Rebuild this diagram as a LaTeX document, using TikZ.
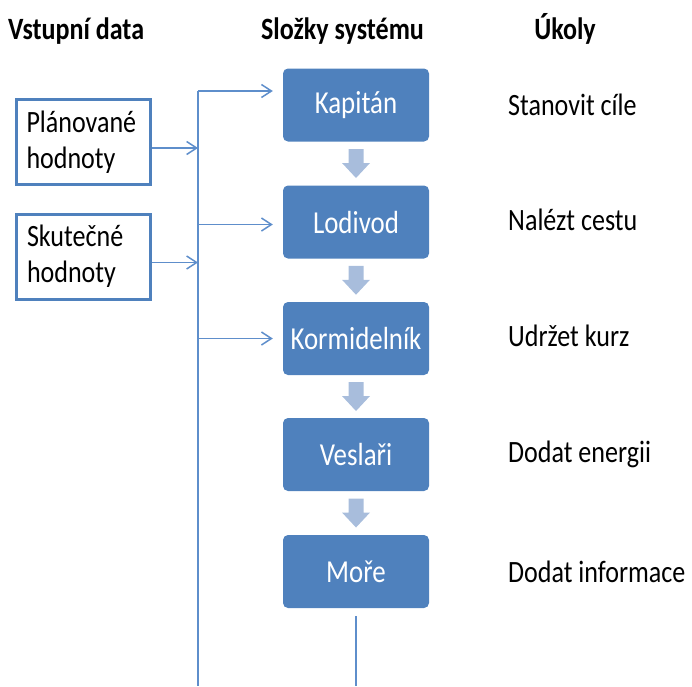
\documentclass[tikz,border=0pt]{standalone}
\usepackage{fontspec}
\setmainfont{Carlito}[FakeStretch=0.84]
\usetikzlibrary{arrows.meta,calc}

\definecolor{boxblue}{HTML}{4F81BD}
\definecolor{lineblue}{HTML}{5E8ECB}
\definecolor{fatblue}{HTML}{A8BDDC}

% broad down arrow centred in the gap between two stacked nodes
\newcommand\gaparrow[2]{%
  \fill[fatblue] ($(#1.south)!0.5!(#2.north)$) ++(-7.5,-14.5) -- ++(15,0)
    -- ++(0,14) -- ++(6.5,0) -- ++(-14,15) -- ++(-14,-15) -- ++(6.5,0) -- cycle;}

\begin{document}
\begin{tikzpicture}[x=1pt,y=-1pt,
  component/.style={rectangle, rounded corners=5pt, fill=boxblue, text=white,
    minimum width=146pt, minimum height=73pt, inner sep=0pt,
    font=\fontsize{32}{36}\selectfont},
  inputbox/.style={rectangle, draw=boxblue, line width=3pt, fill=white,
    minimum width=134pt, minimum height=85pt, inner xsep=10.5pt, inner ysep=0pt,
    text width=113pt, align=left, font=\fontsize{31}{36}\selectfont},
  header/.style={font=\bfseries\fontsize{31}{36}\selectfont, inner sep=0pt},
  task/.style={font=\fontsize{31}{36}\selectfont, anchor=base west, inner sep=0pt},
  link/.style={draw=lineblue, line width=1.5pt},
  feed/.style={link, -{Straight Barb[length=10pt,width=13pt,line width=1.5pt]}},
]
\useasboundingbox (0,0) rectangle (692,686);

% column headings
\node[header, anchor=base west] (hin)   at (8,39)     {Vstupní data};
\node[header, anchor=base]      (hsys)  at (342.5,39) {Složky systému};
\node[header, anchor=base]      (htask) at (565,39)   {Úkoly};

% system components
\node[component] (kap) at (356,105)   {Kapitán};
\node[component] (lod) at (356,222)   {Lodivod};
\node[component] (kor) at (356,338.5) {Kormidelník};
\node[component] (ves) at (356,454.5) {Veslaři};
\node[component] (mor) at (356,571.5) {Moře};

\gaparrow{kap}{lod}
\gaparrow{lod}{kor}
\gaparrow{kor}{ves}
\gaparrow{ves}{mor}

% tasks
\node[task] (t1) at (508,115) {Stanovit cíle};
\node[task] (t2) at (508,230) {Nalézt cestu};
\node[task] (t3) at (508,346) {Udržet kurz};
\node[task] (t4) at (508,462) {Dodat energii};
\node[task] (t5) at (508,582) {Dodat informace};

% input data
\node[inputbox] (plan) at (83,142)     {Plánované\\hodnoty};
\node[inputbox] (real) at (83.5,256.5) {Skutečné\\hodnoty};

% distribution bus
\coordinate (bustop) at (198,91);
\coordinate (busend) at (198,686);
\draw[link] (bustop) -- (busend);

\coordinate (pin)  at ($(plan.east)+(0,6)$);
\coordinate (rin)  at ($(real.east)+(0,6)$);
\draw[feed] (pin) -- (pin -| bustop);
\draw[feed] (rin) -- (rin -| bustop);

\draw[feed, shorten >=10pt] (bustop) -- (bustop -| kap.west);
\draw[feed, shorten >=10pt] ($(lod.west -| bustop)+(0,2.5)$) -- ($(lod.west)+(0,2.5)$);
\draw[feed, shorten >=10pt] (kor.west -| bustop) -- (kor.west);

% output from the sea
\draw[link, shorten <=8pt] (mor.south) -- (mor.south |- busend);
\end{tikzpicture}
\end{document}
